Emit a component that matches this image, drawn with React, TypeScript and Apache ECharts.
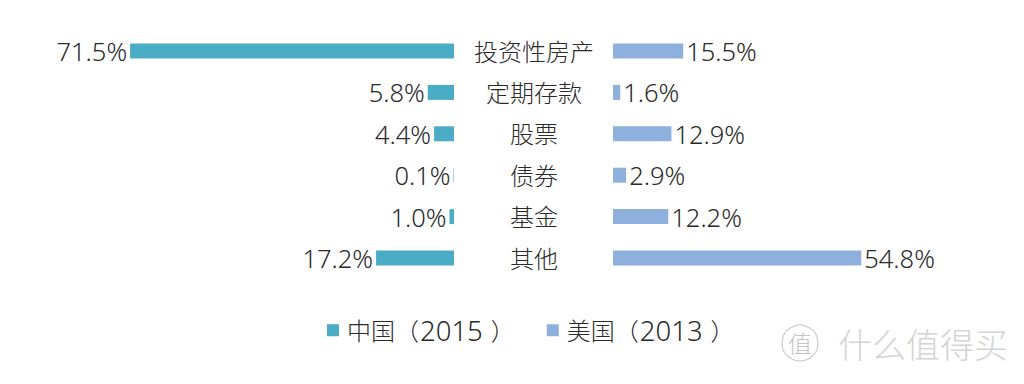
import React, { useEffect, useRef } from "react";
import * as echarts from "echarts";

const categories = ["投资性房产", "定期存款", "股票", "债券", "基金", "其他"];
const chinaValues = [71.5, 5.8, 4.4, 0.1, 1.0, 17.2];
const usValues = [15.5, 1.6, 12.9, 2.9, 12.2, 54.8];
const seriesNames = ["中国（2015）", "美国（2013）"];
const watermarkIcon = "值";
const watermarkText = "什么值得买";

const FONT = "'Noto Sans', 'Noto Sans CJK SC', sans-serif";
const TEXT = "#2a2a2a";

const pct = (p: any) => `${Number(p.value).toFixed(1)}%`;

export default function App() {
  const ref = useRef<HTMLDivElement>(null);
  useEffect(() => {
    document.body.style.margin = "0";
    const chart = echarts.init(ref.current!, null, { renderer: "svg" });
    const labelStyle = {
      show: true,
      distance: 3,
      formatter: pct,
      fontSize: 25.5,
      fontWeight: 300,
      color: TEXT,
      fontFamily: FONT,
    };
    chart.setOption({
      animation: false,
      backgroundColor: "#ffffff",
      textStyle: { fontFamily: FONT },
      legend: {
        bottom: 35,
        left: 322,
        itemWidth: 12,
        itemHeight: 12,
        itemGap: 32,
        icon: "rect",
        formatter: (name: string) => {
          const m = name.match(/^(.*（)(\d+)(）)$/);
          return m ? `{h|${m[1]}}{n|${m[2]}}{c|${m[3]}}` : name;
        },
        textStyle: {
          fontSize: 24,
          color: TEXT,
          fontFamily: FONT,
          rich: {
            h: { fontSize: 24, color: TEXT, fontFamily: FONT, fontWeight: 300, padding: [0, 0, 0, 3] },
            c: { fontSize: 24, color: TEXT, fontFamily: FONT, fontWeight: 300 },
            n: { fontSize: 27.5, color: TEXT, fontFamily: FONT, fontWeight: 300, padding: [0, 8, 0, 1] },
          },
        },
        data: seriesNames,
      },
      grid: [
        { left: 91.6, right: 570, top: 30.3, height: 248.4 },
        { left: 613, right: 48.6, top: 30.3, height: 248.4 },
      ],
      xAxis: [
        { gridIndex: 0, type: "value", min: 0, max: 80, inverse: true, show: false },
        { gridIndex: 1, type: "value", min: 0, max: 80, show: false },
      ],
      yAxis: [
        {
          gridIndex: 0,
          type: "category",
          data: categories,
          inverse: true,
          position: "right",
          axisLine: { show: false },
          axisTick: { show: false },
          splitLine: { show: false },
          axisLabel: {
            margin: 80,
            align: "center",
            fontSize: 24,
            fontWeight: 300,
            color: TEXT,
            fontFamily: FONT,
          },
        },
        {
          gridIndex: 1,
          type: "category",
          data: categories,
          inverse: true,
          show: false,
        },
      ],
      series: [
        {
          name: seriesNames[0],
          type: "bar",
          xAxisIndex: 0,
          yAxisIndex: 0,
          data: chinaValues,
          barWidth: 15,
          itemStyle: { color: "#4BACC6" },
          label: { ...labelStyle, position: "left" },
        },
        {
          name: seriesNames[1],
          type: "bar",
          xAxisIndex: 1,
          yAxisIndex: 1,
          data: usValues,
          barWidth: 15,
          itemStyle: { color: "#8DB0DD" },
          label: { ...labelStyle, position: "right" },
        },
      ],
      graphic: [
        {
          type: "circle",
          shape: { cx: 800, cy: 343, r: 18 },
          style: { fill: "none", stroke: "#cccccc", lineWidth: 1.2 },
          silent: true,
        },
        {
          type: "text",
          x: 800,
          y: 343,
          style: {
            text: watermarkIcon,
            fontSize: 24,
            fontWeight: 300,
            fill: "#c4c4c4",
            align: "center",
            verticalAlign: "middle",
            fontFamily: FONT,
          },
          silent: true,
        },
        {
          type: "text",
          x: 838,
          y: 345,
          style: {
            text: watermarkText,
            fontSize: 34,
            fontWeight: 300,
            fill: "#d4d4d4",
            verticalAlign: "middle",
            fontFamily: FONT,
          },
          silent: true,
        },
      ],
    });
    return () => chart.dispose();
  }, []);
  return <div ref={ref} style={{ width: 1024, height: 384 }} />;
}
